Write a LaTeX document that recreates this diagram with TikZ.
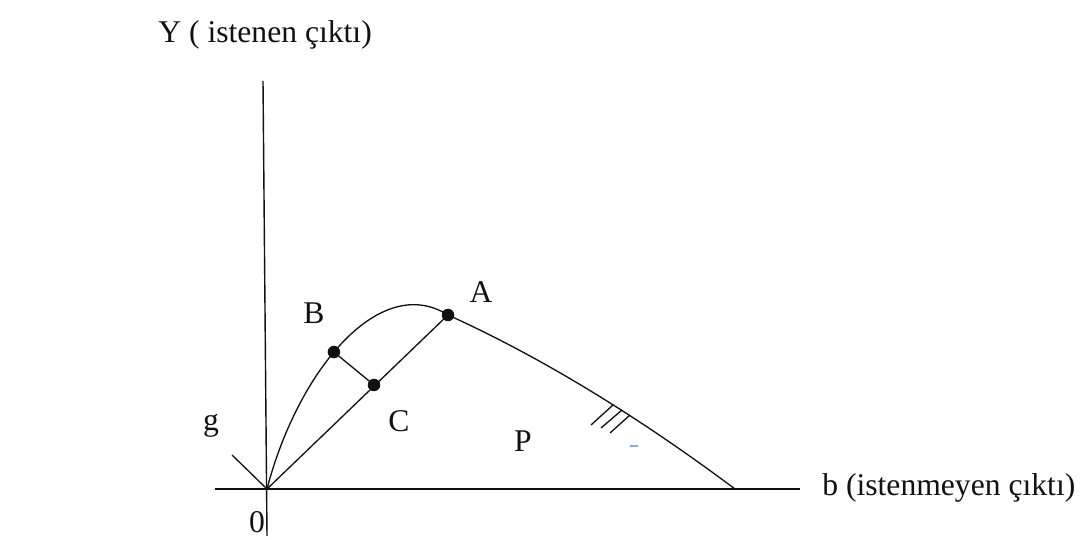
\documentclass[tikz,border=0pt]{standalone}
\usepackage{fontspec}
\setmainfont{Liberation Serif}
\usetikzlibrary{positioning,calc}
\definecolor{Ink}{HTML}{111111}
\definecolor{Dash}{HTML}{86AEDC}
\tikzset{
  axis line/.style={draw=Ink,line width=.8pt},
  curve line/.style={draw=Ink,line width=.75pt},
  point dot/.style={circle,fill=Ink,inner sep=0pt,minimum size=.25cm},
  axis label/.style={font=\fontsize{18}{22}\selectfont,text=Ink,inner sep=0pt}
}

\begin{document}
\begin{tikzpicture}[x=.02cm,y=-.02cm]
  \useasboundingbox (0,0) rectangle (1083,540);
  % axes
  \coordinate (O) at (267,489);
  \coordinate (ytop) at (263,81);
  \coordinate (ybot) at (267,536);
  \coordinate (xleft) at (215,489);
  \coordinate (xright) at (800,489);
  \coordinate (gend) at (232,455);
  \coordinate (bend) at (735,489);
  \draw[axis line] (ytop) -- (ybot);
  \draw[axis line] (xleft) -- (xright);
  \draw[curve line] (gend) -- (O);
  % frontier
  \coordinate (A) at (448,315);
  \draw[curve line] (O) .. controls (298,370) and (380,272) .. coordinate[pos=.45] (B) (A);
  \draw[curve line] (A) .. controls (543,358) and (640,418) .. (bend);
  \node[point dot] (dotA) at (A) {};
  \node[point dot] (dotB) at (B) {};
  \node[point dot] (dotC) at (374,385) {};
  \draw[curve line] (O) -- (dotA.center);
  \draw[curve line] (dotB.center) -- (dotC.center);
  % hatches
  \foreach \hx/\hy/\lx/\ly in {613/405/591/425,622/410/601/428,630/415/610/433}
    \draw[curve line] (\hx,\hy) -- (\lx,\ly);
  \draw[draw=Dash,line width=1pt] (630,446) -- (638,446);
  % labels
  \node[axis label,anchor=base west] (ylab) at (158,43) {Y ( istenen çıktı)};
  \node[axis label,anchor=base west] (xlab) at (822,496) {b (istenmeyen çıktı)};
  \node[axis label,anchor=base] (Alab) at (481,303) {A};
  \node[axis label,anchor=base] (Blab) at (314,324) {B};
  \node[axis label,anchor=base] (Clab) at (399,432) {C};
  \node[axis label,anchor=base] (Plab) at (523,452) {P};
  \node[axis label,anchor=base] (glab) at (211,431) {g};
  \node[axis label,anchor=base] (zero) at (257,533) {0};
\end{tikzpicture}
\end{document}
